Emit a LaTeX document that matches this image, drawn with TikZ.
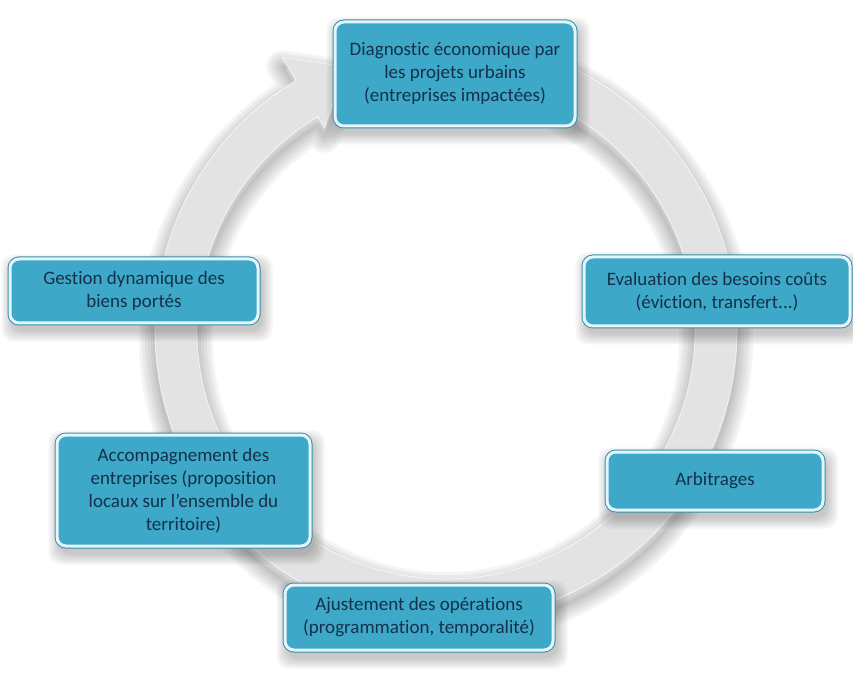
\documentclass[tikz,border=0pt]{standalone}
\usepackage{fontspec}
\setmainfont[Ligatures={NoCommon}]{Carlito}
\usetikzlibrary{calc}
\definecolor{boxfill}{HTML}{3DA8C8}
\definecolor{boxedge}{HTML}{3A8FA8}
\definecolor{boxrim}{HTML}{E4F6FB}
\definecolor{txt}{HTML}{15304A}
\definecolor{ringfill}{HTML}{E3E3E3}
\pgfdeclarelayer{ringlayer}
\pgfdeclarelayer{shadowlayer}
\pgfsetlayers{ringlayer,shadowlayer,main}
\def\ringpath{(75:291) arc[start angle=75,end angle=-239,radius=291] -- (121:318) -- (-99.8,263.2) -- (121:236) -- (121:249) arc[start angle=-239,end angle=75,radius=249] -- cycle}
\begin{document}
\begin{tikzpicture}[x=1pt,y=1pt,
  box/.style={rounded corners=9pt, fill=boxfill, draw=boxrim, line width=3pt,
    preaction={draw=boxedge, line width=5pt}, text=txt,
    font=\fontsize{19}{23}\selectfont, align=center, inner sep=0pt}]
\useasboundingbox (0,0) rectangle (853,675);

\node[box, minimum width=240pt, minimum height=104pt] (diag) at (455,601)
  {Diagnostic économique par\\les projets urbains\\(entreprises impactées)};
\node[box, minimum width=266pt, minimum height=69pt] (eval) at (717,383.5)
  {Evaluation des besoins coûts\\(éviction, transfert...)};
\node[box, minimum width=248pt, minimum height=64pt] (gest) at (134,384)
  {Gestion dynamique des\\biens portés};
\node[box, minimum width=253pt, minimum height=111pt] (acc) at (183.5,184.5)
  {Accompagnement des\\entreprises (proposition\\locaux sur l’ensemble du\\territoire)};
\node[box, minimum width=216pt, minimum height=58pt] (arb) at (715,194)
  {Arbitrages};
\node[box, minimum width=268pt, minimum height=65pt] (aju) at (419,57.5)
  {Ajustement des opérations\\(programmation, temporalité)};

\begin{pgfonlayer}{shadowlayer}
  \foreach \n in {diag,eval,gest,acc,arb,aju}{
    \foreach \e in {0,2,4,6,8,10}{
      \fill[black, opacity=0.04, rounded corners=12pt]
        ($(\n.south west)+(3-\e,-7-\e)$) rectangle ($(\n.north east)+(3+\e,-7+\e)$);
    }
  }
\end{pgfonlayer}

\begin{pgfonlayer}{ringlayer}
  \begin{scope}[shift={(446,345)}]
    \begin{scope}[yshift=-9pt]
      \foreach \w in {32,26,20,14,8,3}{
        \draw[black, opacity=0.045, line width=\w pt, line join=round] \ringpath;
      }
    \end{scope}
    \fill[ringfill] \ringpath;
    \draw[white, opacity=0.6, line width=1pt, line join=round] \ringpath;
  \end{scope}
\end{pgfonlayer}
\end{tikzpicture}
\end{document}
